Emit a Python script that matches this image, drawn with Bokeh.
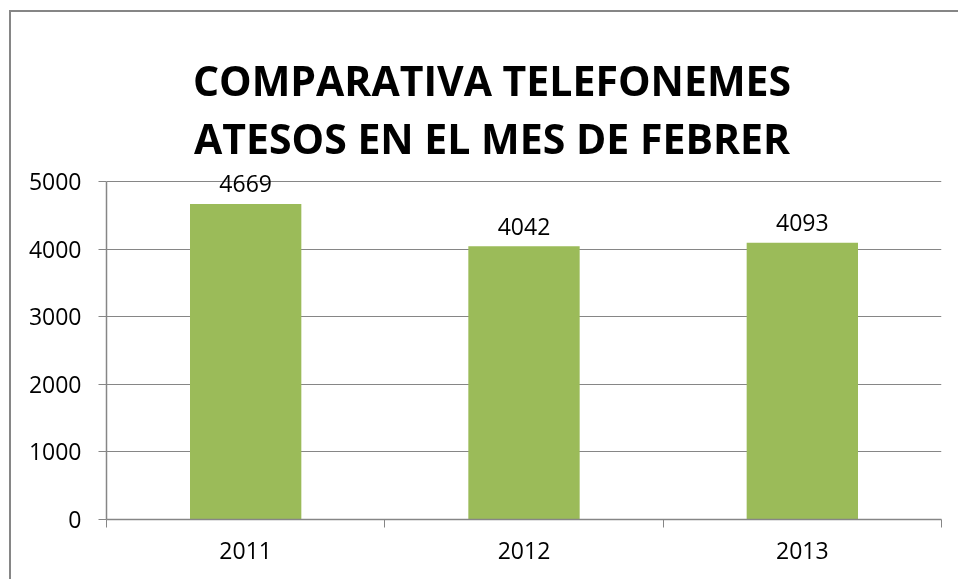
from bokeh.plotting import figure
from bokeh.models import ColumnDataSource, FixedTicker, Label, Range1d
from bokeh.embed import file_html
from bokeh.resources import INLINE
from bokeh.core.properties import value
from bokeh.core import enums

years = ["2011", "2012", "2013"]
calls = [4669, 4042, 4093]
title_lines = ["COMPARATIVA TELEFONEMES", "ATESOS EN EL MES DE FEBRER"]
y_ticks = [0, 1000, 2000, 3000, 4000, 5000]

xs = [i + 0.5 for i in range(len(years))]
src = ColumnDataSource(dict(x=xs, top=calls, lbl=[str(v) for v in calls]))

GRAY = "#868686"
FONT = "Open Sans"
TITLE_FONT = "Open Sans"

W, H = 957, 577
ML, MR, MT, MB = 95, 27, 0, 70
# frame spans the full canvas height above the axis; axis max (5000) sits 338px above 0
frame_h = H - MT - MB
y_top = y_ticks[-1] * frame_h / 338.0

p = figure(width=W, height=H, output_backend="svg", toolbar_location=None,
           x_range=Range1d(0, len(years)), y_range=Range1d(0, y_top),
           min_border_left=ML, min_border_right=MR, min_border_top=MT, min_border_bottom=MB)
p.styles = {"position": "fixed", "left": "9px", "top": "10px",
            "border-left": f"2px solid {GRAY}", "border-top": f"2px solid {GRAY}"}
p.outline_line_color = None
p.background_fill_color = "white"
p.border_fill_color = "white"

p.vbar(x="x", top="top", width=0.4, source=src, fill_color="#9BBB59", line_color=None)
p.text(x="x", y="top", text="lbl", source=src, text_align="center", text_baseline="alphabetic",
       y_offset=-20, text_font=value(FONT), text_font_size="23px", text_color="black")

# x axis
p.xaxis.ticker = FixedTicker(ticks=xs, minor_ticks=list(range(len(years) + 1)))
p.xaxis.major_label_overrides = {x: y for x, y in zip(xs, years)}
p.xaxis.major_tick_out = 0
p.xaxis.major_tick_in = 0
p.xaxis.minor_tick_out = 8
p.xaxis.minor_tick_in = 0
p.xaxis.minor_tick_line_color = GRAY
p.xaxis.axis_line_color = GRAY
p.xaxis.axis_line_width = 1.5
p.xaxis.major_label_standoff = 14
p.xaxis.major_label_text_font = FONT
p.xaxis.major_label_text_font_size = "23px"
p.xaxis.major_label_text_color = "black"
p.xgrid.visible = False

# y axis
p.yaxis.ticker = FixedTicker(ticks=y_ticks)
p.yaxis.bounds = (y_ticks[0], y_ticks[-1])
p.yaxis.major_tick_out = 8
p.yaxis.major_tick_in = 0
p.yaxis.minor_tick_line_color = None
p.yaxis.major_tick_line_color = GRAY
p.yaxis.axis_line_color = GRAY
p.yaxis.axis_line_width = 1.5
p.yaxis.major_label_standoff = 17
p.yaxis.major_label_text_font = FONT
p.yaxis.major_label_text_font_size = "23px"
p.yaxis.major_label_text_color = "black"
p.ygrid.ticker = FixedTicker(ticks=y_ticks)
p.ygrid.grid_line_color = GRAY
p.ygrid.grid_line_width = 1.2

has_canvas = "canvas" in list(enums.CoordinateUnits)
frame_bottom = H - MB
for i, t in enumerate(title_lines):
    cx, cy = 478.5, 65 + i * 58
    if has_canvas:
        kw = dict(x=cx, y=cy, x_units="canvas", y_units="canvas")
    else:
        kw = dict(x=cx - ML, y=frame_bottom - cy, x_units="screen", y_units="screen")
    p.add_layout(Label(text=t, text_align="center", text_baseline="alphabetic", text_font=TITLE_FONT,
                       text_font_style="bold", text_font_size="41px", text_color="black", **kw))

open("out.html", "w").write(file_html(p, INLINE))
